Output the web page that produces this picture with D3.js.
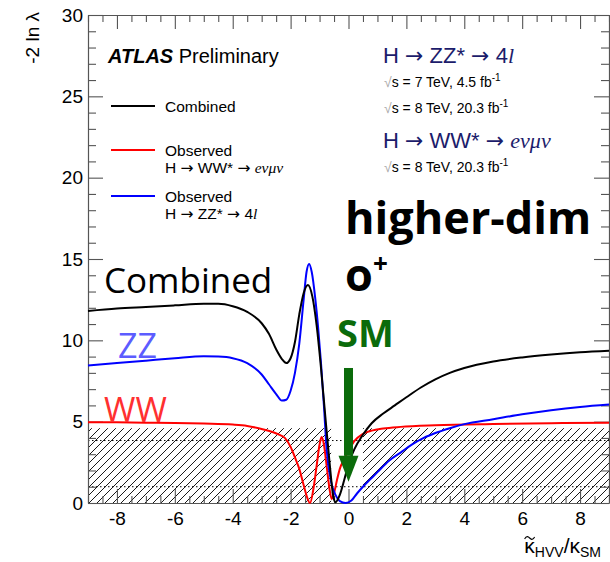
<!DOCTYPE html>
<html>
<head>
<meta charset="utf-8">
<script src="https://cdn.jsdelivr.net/npm/d3@7"></script>
<style>
  body { margin: 0; background: #fff; }
  svg { display: block; }
</style>
</head>
<body>
<div id="chart"></div>
<script>

// Combined (black)
const kCombined = [-9, -8, -7, -6, -5, -4.5, -4, -3.5, -3, -2.75, -2.5, -2.3, -2.15, -2.0, -1.85, -1.7, -1.55, -1.4, -1.25, -1.1, -0.95, -0.8, -0.65, -0.52, -0.45, -0.3, -0.15, 0, 0.2, 0.5, 0.8, 1.2, 1.6, 2, 2.5, 3, 3.5, 4, 5, 6, 7, 8, 9];
const combined = [11.8, 11.95, 12.05, 12.15, 12.25, 12.25, 12.1, 11.75, 11.05, 10.4, 9.45, 8.85, 8.6, 8.9, 9.9, 11.6, 12.9, 13.4, 12.7, 10.9, 8.3, 5.3, 2.4, 0.35, 0.05, 0.5, 1.4, 2.4, 3.3, 4.2, 4.9, 5.5, 6.0, 6.5, 7.1, 7.6, 8.0, 8.3, 8.7, 8.95, 9.13, 9.27, 9.36];

// H -> ZZ* -> 4l (blue)
const kZZ = [-9, -8, -7, -6, -5, -4.5, -4, -3.5, -3, -2.75, -2.5, -2.3, -2.15, -2.0, -1.85, -1.7, -1.55, -1.45, -1.36, -1.27, -1.15, -1.05, -0.95, -0.85, -0.75, -0.6, -0.45, -0.3, -0.1, 0.1, 0.3, 0.5, 0.75, 1.0, 1.4, 1.8, 2.2, 2.6, 3.0, 3.5, 4.0, 5, 6, 7, 8, 9];
const zz = [8.45, 8.6, 8.75, 8.9, 9.02, 9.0, 8.9, 8.6, 7.9, 7.3, 6.7, 6.3, 6.35, 6.9, 8.0, 9.8, 12.5, 14.2, 14.7, 14.2, 12.6, 10.8, 8.6, 6.0, 3.2, 1.3, 0.5, 0.12, 0.0, 0.15, 0.6, 1.0, 1.45, 1.9, 2.6, 3.1, 3.6, 4.0, 4.3, 4.6, 4.85, 5.15, 5.45, 5.7, 5.9, 6.05];

// H -> WW* -> evmuv (red)
const kWW = [-9, -8, -7, -6, -5, -4, -3.5, -3, -2.6, -2.4, -2.2, -2.0, -1.85, -1.7, -1.55, -1.43, -1.33, -1.2, -1.1, -1.0, -0.93, -0.85, -0.75, -0.65, -0.58, -0.5, -0.4, -0.3, -0.15, 0, 0.2, 0.5, 0.8, 1.2, 1.8, 3, 5, 7, 9];
const ww = [4.97, 4.96, 4.94, 4.92, 4.88, 4.82, 4.74, 4.55, 4.35, 4.2, 4.0, 3.45, 2.8, 2.1, 1.1, 0.35, 0.0, 1.0, 2.3, 3.6, 4.05, 3.6, 2.2, 0.8, 0.25, 0.6, 1.4, 2.1, 2.7, 3.2, 3.8, 4.25, 4.45, 4.58, 4.68, 4.78, 4.86, 4.91, 4.94];

const xTicks = [-8, -6, -4, -2, 0, 2, 4, 6, 8];
const yTicks = [0, 5, 10, 15, 20, 25, 30];
const clLevels = [1, 3.84];
const hatchBands = [[-9, -0.6], [0.5, 9]];
const hatchTop = 4.6;

const width = 610,
  height = 562,
  margin = ({ top: 15, right: 1, bottom: 59, left: 88 });

const svg = d3.select("#chart")
  .append("svg")
  .attr("width", width)
  .attr("height", height)
  .attr("viewBox", [0, 0, width, height]);

let x = d3.scaleLinear()
  .domain([-9, 9])
  .range([margin.left, width - margin.right]);

let y = d3.scaleLinear()
  .domain([0, 30])
  .range([height - margin.bottom, margin.top]);

const sans = "'Liberation Sans', Arial, Helvetica, sans-serif";
const serif = "'Liberation Serif', 'Times New Roman', serif";
const arrowFont = "'DejaVu Sans', sans-serif";
const big = "'Open Sans', 'Noto Sans', sans-serif";

// hatch pattern
svg.append("defs").append("pattern")
  .attr("id", "hatch")
  .attr("patternUnits", "userSpaceOnUse")
  .attr("width", 8)
  .attr("height", 8)
  .append("path")
  .attr("d", "M-1,1 L1,-1 M0,8 L8,0 M7,9 L9,7")
  .attr("stroke", "#000")
  .attr("stroke-width", 0.9);

svg.append("g")
  .selectAll("rect")
  .data(hatchBands)
  .join("rect")
  .attr("x", d => x(d[0]))
  .attr("width", d => x(d[1]) - x(d[0]))
  .attr("y", y(hatchTop))
  .attr("height", y(0) - y(hatchTop))
  .attr("fill", "url(#hatch)");

// dotted CL lines
svg.append("g")
  .selectAll("line")
  .data(clLevels)
  .join("line")
  .attr("x1", x(-9))
  .attr("x2", x(9))
  .attr("y1", d => y(d))
  .attr("y2", d => y(d))
  .attr("stroke", "#000")
  .attr("stroke-width", 1)
  .attr("stroke-dasharray", "1.5,2.5");

// axes (ROOT style: ticks inside on all four sides)
function styleAxis(g) {
  g.select(".domain").attr("stroke", "#555").attr("stroke-width", 1.2);
  g.selectAll(".tick line").attr("stroke", "#555").attr("stroke-width", 1.1);
  g.selectAll(".tick text")
    .attr("font-family", sans)
    .attr("font-size", 19)
    .attr("fill", "#000");
}

const xMinor = d3.range(-9, 9.01, 0.5).filter(d => !xTicks.includes(d));
const yMinor = d3.range(0, 30.01, 1).filter(d => !yTicks.includes(d));

svg.append("g")
  .attr("transform", `translate(0,${y(0)})`)
  .call(d3.axisBottom(x).tickValues(xTicks).tickSize(-14).tickSizeOuter(0).tickPadding(9).tickFormat(d => d))
  .call(styleAxis);
svg.append("g")
  .attr("transform", `translate(0,${y(0)})`)
  .call(d3.axisBottom(x).tickValues(xMinor).tickSize(-7).tickFormat(""))
  .call(g => g.select(".domain").remove())
  .call(styleAxis);
svg.append("g")
  .attr("transform", `translate(0,${y(30)})`)
  .call(d3.axisTop(x).tickValues(xTicks).tickSize(-14).tickSizeOuter(0).tickFormat(""))
  .call(styleAxis);
svg.append("g")
  .attr("transform", `translate(0,${y(30)})`)
  .call(d3.axisTop(x).tickValues(xMinor).tickSize(-7).tickFormat(""))
  .call(g => g.select(".domain").remove())
  .call(styleAxis);

svg.append("g")
  .attr("transform", `translate(${x(-9)},0)`)
  .call(d3.axisLeft(y).tickValues(yTicks).tickSize(-15).tickSizeOuter(0).tickPadding(5).tickFormat(d => d))
  .call(styleAxis);
svg.append("g")
  .attr("transform", `translate(${x(-9)},0)`)
  .call(d3.axisLeft(y).tickValues(yMinor).tickSize(-8).tickFormat(""))
  .call(g => g.select(".domain").remove())
  .call(styleAxis);
svg.append("g")
  .attr("transform", `translate(${x(9)},0)`)
  .call(d3.axisRight(y).tickValues(yTicks).tickSize(-15).tickSizeOuter(0).tickFormat(""))
  .call(styleAxis);
svg.append("g")
  .attr("transform", `translate(${x(9)},0)`)
  .call(d3.axisRight(y).tickValues(yMinor).tickSize(-8).tickFormat(""))
  .call(g => g.select(".domain").remove())
  .call(styleAxis);

// curves
const series = [
  { k: kWW, v: ww, color: "#ff0000" },
  { k: kZZ, v: zz, color: "#0000ff" },
  { k: kCombined, v: combined, color: "#000000" }
];

let line = d3.line()
  .x(d => x(d[0]))
  .y(d => y(d[1]))
  .curve(d3.curveMonotoneX);

svg.append("g")
  .selectAll("path")
  .data(series)
  .join("path")
  .attr("d", s => line(s.k.map((k, i) => [k, s.v[i]])))
  .attr("fill", "none")
  .attr("stroke", s => s.color)
  .attr("stroke-width", 2);

// axis titles
svg.append("text")
  .attr("transform", "translate(39,12) rotate(-90)")
  .attr("text-anchor", "end")
  .attr("font-family", sans)
  .attr("font-size", 19)
  .text("-2 ln λ");

const xt = svg.append("text")
  .attr("x", 601)
  .attr("y", 553)
  .attr("text-anchor", "end")
  .attr("font-family", sans)
  .attr("font-size", 21);
xt.append("tspan").text("κ");
xt.append("tspan").attr("font-size", 14).attr("dy", 4).text("HVV");
xt.append("tspan").attr("dy", -4).text("/κ");
xt.append("tspan").attr("font-size", 14).attr("dy", 4).text("SM");

// tilde over the first kappa, drawn as a small path
const kBox = xt.node().getExtentOfChar(0);
const tx = kBox.x + kBox.width / 2, ty = 538;
svg.append("path")
  .attr("d", `M${tx - 5},${ty + 1} C${tx - 3},${ty - 3} ${tx - 1},${ty - 1} ${tx},${ty} S${tx + 3},${ty + 3} ${tx + 5},${ty - 1}`)
  .attr("fill", "none")
  .attr("stroke", "#000")
  .attr("stroke-width", 1.1);

// ATLAS label and legend
const atlas = svg.append("text")
  .attr("x", 108)
  .attr("y", 63)
  .attr("font-family", sans)
  .attr("font-size", 20);
atlas.append("tspan").attr("font-weight", "bold").attr("font-style", "italic").text("ATLAS");
atlas.append("tspan").text(" Preliminary");

// rich text: [text, style] pieces, style "a" = arrow glyph, "i" = italic serif
function rich(t, parts) {
  parts.forEach(([s, st]) => {
    const sp = t.append("tspan").text(s);
    if (st === "a") sp.attr("font-family", arrowFont);
    if (st === "i") sp.attr("font-family", serif).attr("font-style", "italic");
  });
}

const legend = [
  { color: "#000000", y: 106, lines: [[["Combined"]]] },
  { color: "#ff0000", y: 150, lines: [[["Observed"]], [["H "], ["→", "a"], [" WW* "], ["→", "a"], [" "], ["eνμν", "i"]]] },
  { color: "#0000ff", y: 196, lines: [[["Observed"]], [["H "], ["→", "a"], [" ZZ* "], ["→", "a"], [" 4"], ["l", "i"]]] }
];

legend.forEach(item => {
  svg.append("line")
    .attr("x1", 111).attr("x2", 155)
    .attr("y1", item.y).attr("y2", item.y)
    .attr("stroke", item.color)
    .attr("stroke-width", 2);
  item.lines.forEach((parts, j) => {
    const t = svg.append("text")
      .attr("x", 165)
      .attr("y", item.y + 6 + j * 17)
      .attr("font-family", sans)
      .attr("font-size", 15.5);
    rich(t, parts);
  });
});

// channel info (top right)
const navy = "#1c1c6b";
function channel(yPos, parts) {
  const t = svg.append("text")
    .attr("x", 383).attr("y", yPos)
    .attr("font-family", sans)
    .attr("font-size", 22)
    .attr("fill", navy);
  rich(t, parts);
}
function energy(yPos, txt) {
  const t = svg.append("text")
    .attr("x", 384).attr("y", yPos)
    .attr("font-family", sans)
    .attr("font-size", 14);
  t.append("tspan").attr("fill", "#aaa").text("√");
  t.append("tspan").text(txt);
  t.append("tspan").attr("font-size", 10).attr("dy", -6).text("-1");
}
channel(63, [["H "], ["→", "a"], [" ZZ* "], ["→", "a"], [" 4"], ["l", "i"]]);
energy(87, "s = 7 TeV, 4.5 fb");
energy(113, "s = 8 TeV, 20.3 fb");
channel(148, [["H "], ["→", "a"], [" WW* "], ["→", "a"], [" "], ["eνμν", "i"]]);
energy(172, "s = 8 TeV, 20.3 fb");

// overlaid annotations
svg.append("text")
  .attr("x", 345).attr("y", 234)
  .attr("font-family", big).attr("font-weight", "bold")
  .attr("font-size", 45)
  .text("higher-dim");

const op = svg.append("text")
  .attr("x", 345).attr("y", 291)
  .attr("font-family", big).attr("font-weight", "bold")
  .attr("font-size", 45);
op.append("tspan").text("o");
op.append("tspan").attr("font-size", 26).attr("dy", -18).text("+");

svg.append("text")
  .attr("x", 337).attr("y", 347)
  .attr("font-family", big).attr("font-weight", "bold")
  .attr("font-size", 38)
  .attr("fill", "#0b6b0b")
  .text("SM");

svg.append("text")
  .attr("x", 104).attr("y", 293)
  .attr("font-family", big)
  .attr("font-size", 35)
  .text("Combined");

svg.append("text")
  .attr("x", 118).attr("y", 358)
  .attr("font-family", big)
  .attr("font-size", 34)
  .attr("fill", "#5c5cff")
  .text("ZZ");

svg.append("text")
  .attr("x", 104).attr("y", 422)
  .attr("font-family", big)
  .attr("font-size", 34)
  .attr("fill", "#ff3030")
  .text("WW");

// SM arrow
const arrowTop = 8.3, arrowTip = 1.3, arrowNeck = 2.9;
svg.append("rect")
  .attr("x", x(0) - 4.5)
  .attr("width", 9)
  .attr("y", y(arrowTop))
  .attr("height", y(arrowNeck) - y(arrowTop))
  .attr("fill", "#0b6b0b");
svg.append("path")
  .attr("d", `M${x(0) - 10},${y(arrowNeck)} L${x(0) + 10},${y(arrowNeck)} L${x(0)},${y(arrowTip)} Z`)
  .attr("fill", "#0b6b0b");

</script>
</body>
</html>
